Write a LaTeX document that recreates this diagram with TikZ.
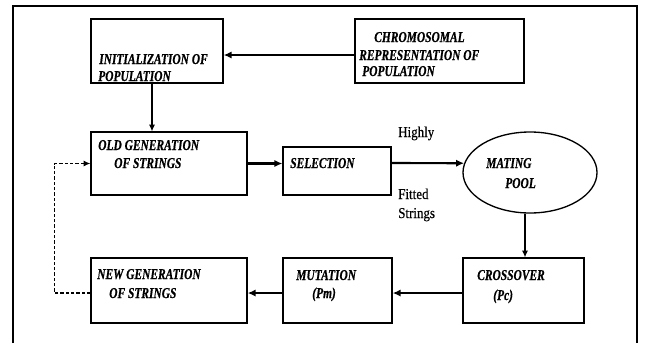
\documentclass[tikz,border=0pt]{standalone}
\usepackage{fontspec}
\usetikzlibrary{arrows.meta,shapes.geometric}
\newfontfamily\gafont[FakeStretch=0.76,FakeBold=0.6]{Liberation Serif}
\newfontfamily\noteFont[FakeStretch=0.86,FakeBold=0.4]{Liberation Serif}

\tikzset{
  box/.style={draw,rectangle,line width=1pt,inner sep=0pt},
  lbl/.style={anchor=west,inner sep=0pt,text height=7.5pt,text depth=0pt,
    font=\gafont\fontsize{11.3}{12}\selectfont\bfseries\itshape},
  note/.style={anchor=west,inner sep=0pt,text height=7.5pt,text depth=0pt,
    font=\noteFont\fontsize{11.3}{12}\selectfont},
  flow/.style={line width=1.6pt,-{Latex[length=6pt,width=5.5pt]}},
  down/.style={line width=0.8pt,-{Latex[length=5pt,width=4.5pt]}},
  back/.style={line width=0.9pt,dashed,dash pattern=on 2.5pt off 1.5pt,-{Latex[length=5pt,width=4.5pt]}}
}

\begin{document}
\begin{tikzpicture}[x=0.75pt,y=-0.75pt]
    \useasboundingbox (0,0) rectangle (648,343);
    % outer frame (open at the bottom)
    \draw [line width=2pt] (13,343) -- (13,6) -- (637,6) -- (637,343);

    % blocks
    \node [box,minimum width=99pt,minimum height=48pt] (init) at (157,51) {};
    \node [box,minimum width=126.75pt,minimum height=48pt] (chrom) at (439.5,51) {};
    \node [box,minimum width=117pt,minimum height=47.25pt] (old) at (169,163.5) {};
    \node [box,minimum width=81pt,minimum height=36pt] (sel) at (337,171) {};
    \node [draw,ellipse,line width=1pt,inner sep=0pt,minimum width=100.5pt,minimum height=60.75pt] (pool) at (530,172.5) {};
    \node [box,minimum width=117pt,minimum height=48.75pt] (newg) at (169,290.5) {};
    \node [box,minimum width=81.75pt,minimum height=48.75pt] (mut) at (337.5,290.5) {};
    \node [box,minimum width=90.75pt,minimum height=48.75pt] (cross) at (523.5,290.5) {};

    % texts
    \node [lbl] (initA) at (99,59) {INITIALIZATION OF};
    \node [lbl] (initB) at (98,76) {POPULATION};
    \node [lbl] (chromA) at (374,37) {CHROMOSOMAL};
    \node [lbl] (chromB) at (359,55) {REPRESENTATION OF};
    \node [lbl] (chromC) at (362,71) {POPULATION};
    \node [lbl] (oldA) at (98,145) {OLD GENERATION};
    \node [lbl] (oldB) at (114,163) {OF STRINGS};
    \node [lbl] (selA) at (290,163) {SELECTION};
    \node [lbl] (poolA) at (486,163) {MATING};
    \node [lbl] (poolB) at (505,183) {POOL};
    \node [lbl] (newgA) at (97,274) {NEW GENERATION};
    \node [lbl] (newgB) at (109,293) {OF STRINGS};
    \node [lbl] (mutA) at (296,275) {MUTATION};
    \node [lbl] (mutB) at (312,293) {(Pm)};
    \node [lbl] (crossA) at (477,275) {CROSSOVER};
    \node [lbl] (crossB) at (493,295) {(Pc)};
    \node [note] (hi) at (398,132) {Highly};
    \node [note] (fit) at (398,194) {Fitted};
    \node [note] (str) at (398,213) {Strings};

    % connectors
    \draw [flow] ([yshift=-3pt]chrom.west) -- ([yshift=-3pt]init.east);
    \draw [down] ([xshift=-3.75pt]init.south) -- ([xshift=-3.75pt]init.south |- old.north);
    \draw [flow] (old.east) -- (old.east -| sel.west);
    \draw [flow] ([yshift=6pt]sel.east) -- (pool.172);
    \draw [down] ([xshift=-3.75pt]pool.south) -- ([xshift=-3.75pt]pool.south |- cross.north);
    \draw [flow] ([yshift=-1.9pt]cross.west) -- ([yshift=-1.9pt]mut.east);
    \draw [flow] ([yshift=-1.9pt]mut.west) -- ([yshift=-1.9pt]newg.east);
    \draw [back] ([yshift=-1.9pt]newg.west) -- ++(-36,0) |- (old.west);
\end{tikzpicture}
\end{document}
